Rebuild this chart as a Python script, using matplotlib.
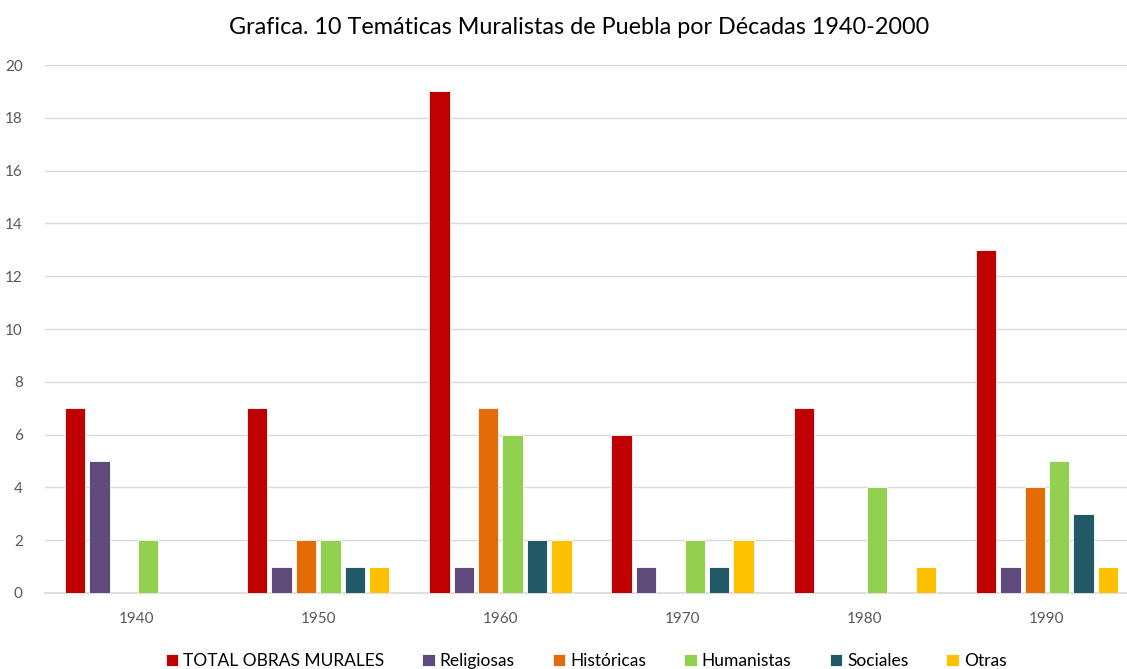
import numpy as np
import matplotlib.pyplot as plt

decades = ['1940', '1950', '1960', '1970', '1980', '1990']
series_names = ['TOTAL OBRAS MURALES', 'Religiosas', 'Históricas', 'Humanistas', 'Sociales', 'Otras']
total = [7, 7, 19, 6, 7, 13]
religiosas = [5, 1, 1, 1, 0, 1]
historicas = [0, 2, 7, 0, 0, 4]
humanistas = [2, 2, 6, 2, 4, 5]
sociales = [0, 1, 2, 1, 0, 3]
otras = [0, 1, 2, 2, 1, 1]
colors = ['#C00000', '#604A7B', '#E36C09', '#92D050', '#215967', '#FFC000']

plt.rcParams['font.family'] = ['Lato', 'DejaVu Sans']

fig = plt.figure(figsize=(11.27, 6.69), dpi=100)
ax = fig.add_axes([45 / 1127, 76 / 669, 1093 / 1127, 528 / 669])

x = np.arange(len(decades))
slot = 0.134
width = 0.112
all_series = [total, religiosas, historicas, humanistas, sociales, otras]
for i, (vals, name, c) in enumerate(zip(all_series, series_names, colors)):
    ax.bar(x + (i - 2.5) * slot, vals, width, color=c, label=name,
           edgecolor='white', linewidth=0.6, zorder=3)

ax.set_xlim(-0.5, len(decades) - 0.5)
ax.set_ylim(0, 20)
ax.set_yticks(range(0, 21, 2))
ax.set_xticks(x)
ax.set_xticklabels(decades)
ax.grid(axis='y', color='#D9D9D9', linewidth=1, zorder=0)
for s in ['top', 'right', 'left']:
    ax.spines[s].set_visible(False)
ax.spines['bottom'].set_color('#D9D9D9')
ax.spines['bottom'].set_linewidth(1.2)
ax.tick_params(axis='both', length=0, colors='#595959', labelsize=11)
ax.tick_params(axis='x', pad=14)
ax.tick_params(axis='y', pad=16)

fig.suptitle('Grafica. 10 Temáticas Muralistas de Puebla por Décadas 1940-2000',
             x=0.514, y=0.975, fontsize=16.8, color='#000000')

fig.legend(loc='lower center', bbox_to_anchor=(0.52, -0.024), ncol=6, frameon=False,
           fontsize=12.5, handlelength=0.7, handleheight=0.7, handletextpad=0.3,
           columnspacing=2.2)

fig.savefig('out.png', dpi=100)
